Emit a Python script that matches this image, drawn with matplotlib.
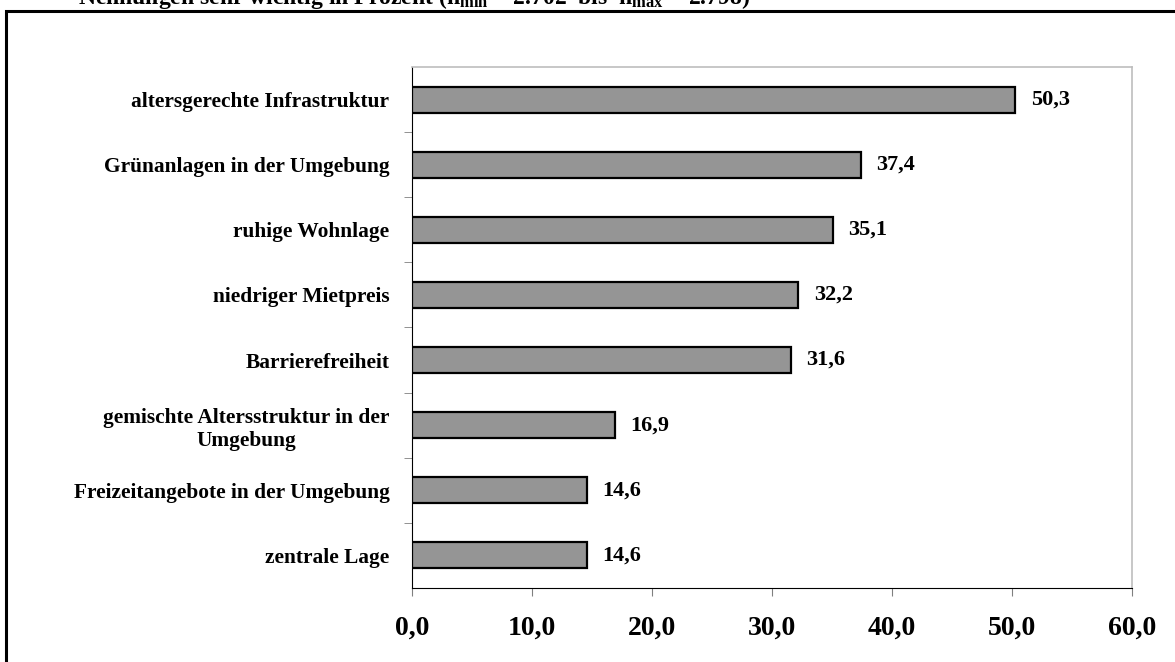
import matplotlib
matplotlib.use("Agg")
import matplotlib.pyplot as plt
from matplotlib.patches import Rectangle

# -------------------------
# Data
# -------------------------
categories = [
    "altersgerechte Infrastruktur",
    "Grünanlagen in der Umgebung",
    "ruhige Wohnlage",
    "niedriger Mietpreis",
    "Barrierefreiheit",
    "gemischte Altersstruktur in der\nUmgebung",
    "Freizeitangebote in der Umgebung",
    "zentrale Lage",
]
values = [50.3, 37.4, 35.1, 32.2, 31.6, 16.9, 14.6, 14.6]
value_labels = ["50,3", "37,4", "35,1", "32,2", "31,6", "16,9", "14,6", "14,6"]
x_ticks = [0, 10, 20, 30, 40, 50, 60]
x_tick_labels = ["0,0", "10,0", "20,0", "30,0", "40,0", "50,0", "60,0"]
title = (r"Nennungen sehr wichtig in Prozent (n$_{\mathrm{min}}$ = 2.702  bis  "
         r"n$_{\mathrm{max}}$ = 2.798)")

plt.rcParams["font.family"] = ["Liberation Serif", "DejaVu Serif"]
plt.rcParams["font.weight"] = "bold"
plt.rcParams["mathtext.fontset"] = "custom"
plt.rcParams["mathtext.rm"] = "Liberation Serif:bold"
plt.rcParams["mathtext.it"] = "Liberation Serif:bold"

fig = plt.figure(figsize=(11.75, 6.62), dpi=100)
ax = fig.add_axes([0.3504, 0.1118, 0.6128, 0.787])

# outer frame (runs off the right and bottom edge)
fig.patches.append(Rectangle((6 / 1175, -0.05), 1.2, 1 - 11 / 662 + 0.05,
                             transform=fig.transFigure, fill=False,
                             edgecolor="black", linewidth=2.2))

# title, cut off by the top edge as in the original
fig.text(78 / 1175, 1 - 4 / 662, title, fontsize=17, fontweight="bold",
         va="baseline", ha="left")

pos = list(range(len(categories)))[::-1]
ax.barh(pos, values, height=0.4, color="#959595", edgecolor="black",
        linewidth=1.6, zorder=3)

for p, v, lab in zip(pos, values, value_labels):
    ax.text(v + 1.3, p, lab, va="center", ha="left", fontsize=16,
            fontweight="bold")

ax.set_xlim(0, 60)
ax.set_ylim(-0.5, len(categories) - 0.5)
ax.set_xticks(x_ticks)
ax.set_xticklabels(x_tick_labels, fontsize=20, fontweight="bold")
ax.set_yticks(pos)
ax.set_yticklabels(categories, fontsize=15.4, fontweight="bold",
                   multialignment="center")
ax.tick_params(axis="y", length=0, pad=16)
ax.set_yticks([p + 0.5 for p in range(len(categories) - 1)], minor=True)
ax.tick_params(axis="y", which="minor", length=6, color="#808080")
ax.tick_params(axis="x", length=6, color="#808080", pad=14)

for side in ["top", "right"]:
    ax.spines[side].set_color("#bdbdbd")
    ax.spines[side].set_linewidth(1.2)
ax.spines["left"].set_color("black")
ax.spines["bottom"].set_color("black")

plt.savefig("out.png", dpi=100)
